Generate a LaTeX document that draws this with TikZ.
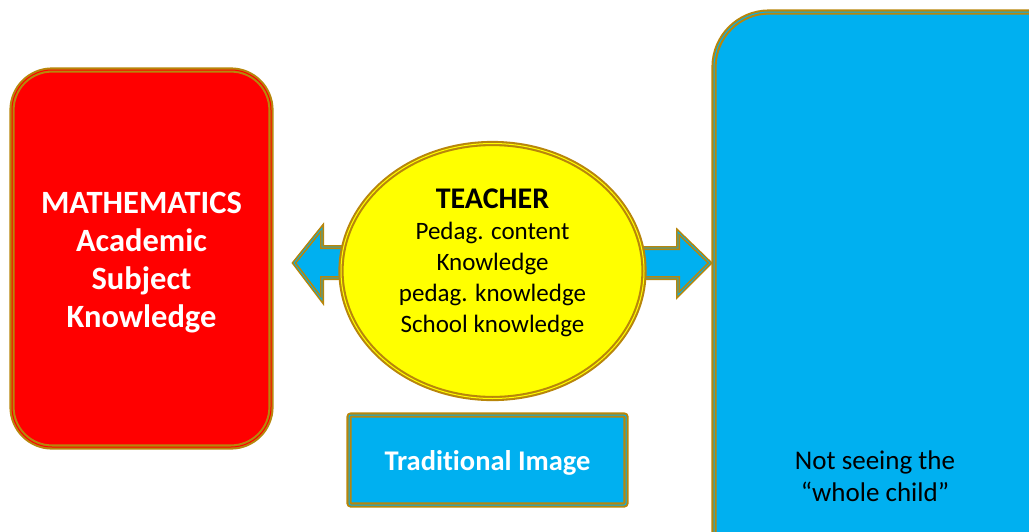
\documentclass[tikz,border=0pt]{standalone}
\usepackage{fontspec}
\setmainfont{Carlito}[Ligatures=NoCommon]
\usetikzlibrary{positioning,shapes.geometric}
\definecolor{rimgold}{HTML}{B8860B}
\definecolor{mathred}{HTML}{FF0000}
\definecolor{skyblue}{HTML}{00B0F0}
\definecolor{teachyellow}{HTML}{FFFF00}
\tikzset{
  rim/.style={draw=rimgold, line width=2.1pt, double distance=1pt},
  mathbox/.style={rim, double=mathred, fill=mathred, rounded corners=40pt,
    minimum width=259pt, minimum height=377pt},
  teachball/.style={rim, double=teachyellow, fill=teachyellow, ellipse,
    minimum width=303pt, minimum height=255pt, inner sep=0pt},
  imagebox/.style={rim, double=skyblue, fill=skyblue, rounded corners=2pt,
    minimum width=277pt, minimum height=90pt},
  childbox/.style={rim, double=skyblue, fill=skyblue, rounded corners=55pt},
  blockarrow/.style={rim, double=skyblue, fill=skyblue, line width=1.6pt, double distance=0.8pt},
  boldwhite/.style={text=white, align=center, font=\fontsize{#1}{38}\selectfont\bfseries}
}
\begin{document}
\begin{tikzpicture}[x=1pt,y=-1pt]
\useasboundingbox (0,0) rectangle (1029,531);
\clip (0,0) rectangle (1029,531);

\draw[childbox] (714,12) rectangle (1090,590);
\node[align=center, font=\fontsize{27}{32}\selectfont] (child) at (875,476)
  {Not seeing the\\“whole child”};

\node[mathbox] (math) at (141.5,258.5) {};
\node[boldwhite=32.5] (mathtext) at ([yshift=-4.5pt]math.center) {MATHEMATICS\\Academic\\Subject\\Knowledge};

\coordinate (lefttip) at (294,263);
\coordinate (righttip) at (710,263);
\draw[blockarrow] (380,247) -- (322,247) -- (322,228) -- (lefttip)
  -- (322,300) -- (322,278) -- (380,278) -- cycle;
\draw[blockarrow] (600,248) -- (678,248) -- (678,232) -- (righttip)
  -- (678,295) -- (678,278) -- (600,278) -- cycle;

\node[teachball] (teacher) at (492.5,271) {};
\node[align=center, font=\fontsize{25}{31}\selectfont] (teachtext) at ([yshift=8pt]teacher.center)
  {{\fontsize{30}{31}\selectfont\bfseries TEACHER}\\Pedag. content\\Knowledge\\pedag. knowledge\\School knowledge};

\node[imagebox] (image) at (487.5,460) {};
\node[boldwhite=28.5] (imagetext) at ([yshift=-3pt]image.center) {Traditional Image};
\end{tikzpicture}
\end{document}
